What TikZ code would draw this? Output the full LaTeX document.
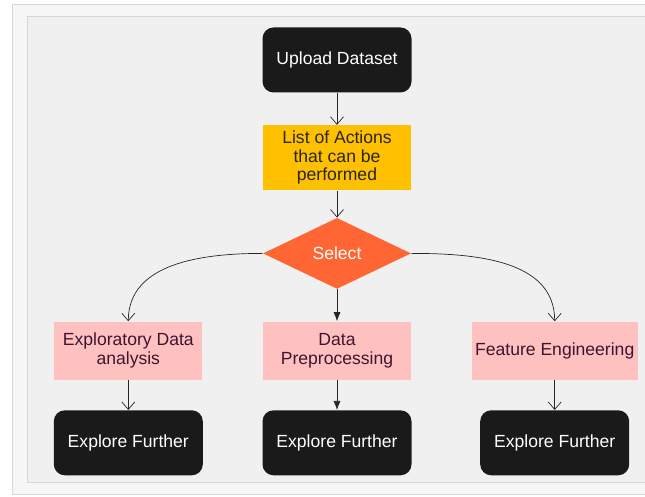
\documentclass[tikz,border=0pt]{standalone}
\usepackage{fontspec}
\setmainfont{Liberation Sans}
\usetikzlibrary{arrows.meta,positioning,shapes.geometric}
\definecolor{outergray}{RGB}{246,246,246}
\definecolor{panelgray}{RGB}{240,240,240}
\definecolor{framegray}{RGB}{214,214,214}
\definecolor{boxblack}{RGB}{26,26,26}
\definecolor{listyellow}{RGB}{255,192,0}
\definecolor{selectorange}{RGB}{255,102,51}
\definecolor{taskpink}{RGB}{255,192,192}
\definecolor{taskpurple}{RGB}{60,22,48}
\tikzstyle{darkbox} = [rectangle, rounded corners=0.22cm, fill=boxblack, text=white, minimum width=2.98cm, minimum height=1.3cm, align=center]
\tikzstyle{listbox} = [rectangle, fill=listyellow, text=black!85, minimum width=2.96cm, minimum height=1.3cm, align=center]
\tikzstyle{choice} = [diamond, fill=selectorange, text=white, minimum width=2.96cm, minimum height=1.42cm, inner sep=0pt]
\tikzstyle{taskbox} = [rectangle, fill=taskpink, text=taskpurple, minimum width=2.96cm, minimum height=1.16cm, align=center]
\tikzstyle{flow} = [-{Straight Barb[length=1.5mm,width=2.6mm]}, black!85]
\tikzstyle{flowfill} = [-{Latex[length=1.8mm,width=1.4mm]}, black!85]
\begin{document}
\begin{tikzpicture}[font=\fontsize{10}{10.5}\selectfont]
      \useasboundingbox (0,0) rectangle (12.9,9.94);
      \clip (0,0) rectangle (12.9,9.94);
      \fill[white] (0,0) rectangle (12.9,9.94);
      \draw[framegray, fill=outergray] (0.24,0.06) rectangle (13.3,9.86);
      \draw[framegray, fill=panelgray] (0.54,0.30) rectangle (13.3,9.62);
      %
      \node[darkbox] (UploadData) at (6.74,8.74) {Upload Dataset};
      \node[listbox,below=0.64cm of UploadData] (ActionList) {List of Actions\\that can be\\performed};
      \node[choice,below=0.54cm of ActionList] (SelectStep) {Select};
      \node[taskbox,below=0.64cm of SelectStep] (Preprocess) {Data\\Preprocessing};
      \node[taskbox,left=1.2cm of Preprocess] (ExploreData) {Exploratory Data\\analysis};
      \node[taskbox,right=1.2cm of Preprocess,minimum width=3.32cm,inner xsep=1pt] (FeatureEng) {Feature Engineering};
      \node[darkbox,below=0.6cm of ExploreData] (FurtherA) {Explore Further};
      \node[darkbox,below=0.6cm of Preprocess] (FurtherB) {Explore Further};
      \node[darkbox,below=0.6cm of FeatureEng] (FurtherC) {Explore Further};
      %
      \draw[flow] (UploadData) -- (ActionList);
      \draw[flow] (ActionList) -- (SelectStep);
      \draw[flow] (SelectStep.west) to[out=180,in=90] (ExploreData.north);
      \draw[flowfill] (SelectStep.south) -- (Preprocess.north);
      \draw[flow] (SelectStep.east) to[out=0,in=90] (FeatureEng.north);
      \draw[flow] (ExploreData) -- (FurtherA);
      \draw[flowfill] (Preprocess) -- (FurtherB);
      \draw[flow] (FeatureEng) -- (FurtherC);
    \end{tikzpicture}
\end{document}
